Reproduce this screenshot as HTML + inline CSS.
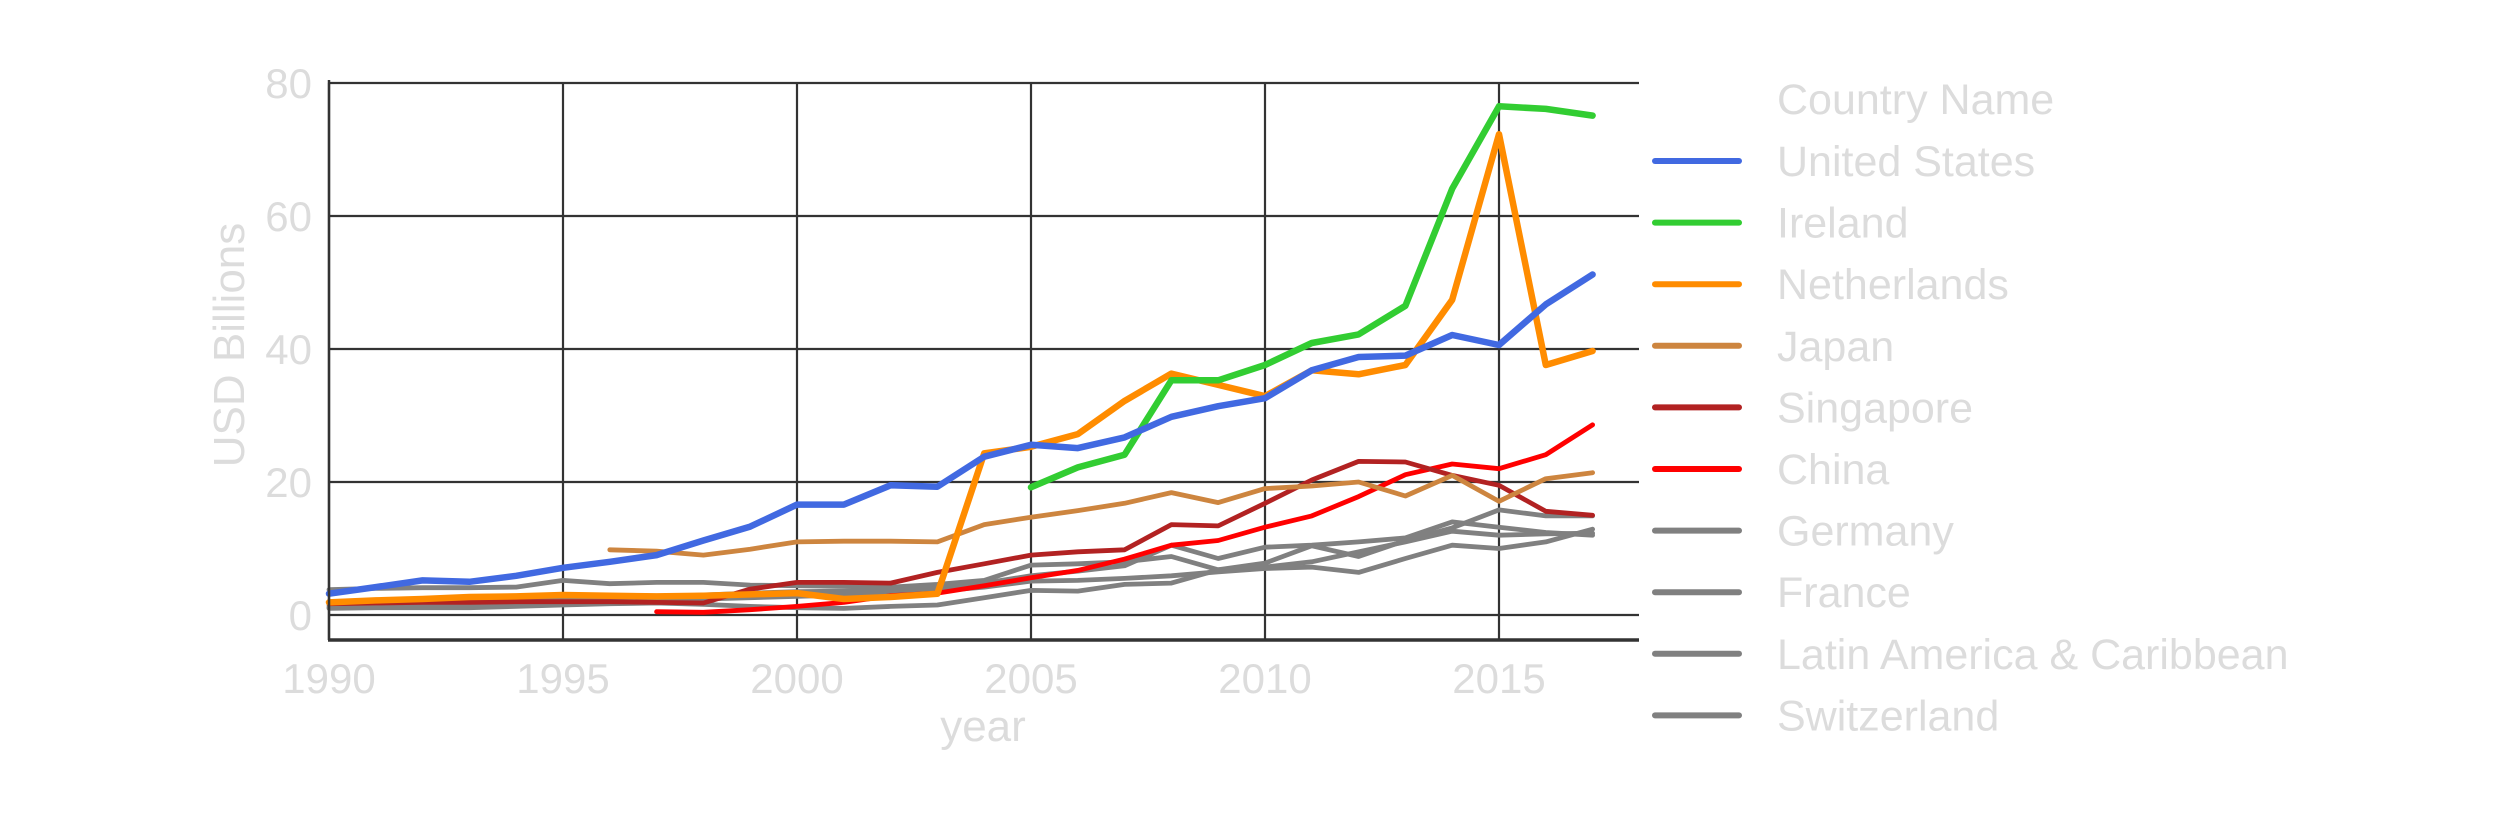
<!DOCTYPE html>
<html><head><meta charset="utf-8"><style>
html,body{margin:0;padding:0;background:#fff;}
svg{display:block;font-family:"Liberation Sans",Arial,sans-serif;}
</style></head><body>
<svg id="chart" width="2500" height="819" viewBox="0 0 2500 819">
<g id="grid"></g>
<g id="series"></g>
<g id="axes"></g>
<g id="legend"></g>
</svg>
<script>
const years = [1990,1991,1992,1993,1994,1995,1996,1997,1998,1999,2000,2001,2002,2003,2004,2005,2006,2007,2008,2009,2010,2011,2012,2013,2014,2015,2016,2017];
const seriesNames = ["United States","Ireland","Netherlands","Japan","Singapore","China","Germany","France","Latin America & Caribbean","Switzerland"];
const seriesColors = ["#4169e1","#32cd32","#ff8c00","#cd853f","#b22222","#ff0000","#808080","#808080","#808080","#808080"];
const seriesWidths = [6.5,6.5,6.5,4.8,4.8,4.8,4.8,4.8,4.8,4.8];
const usValues = [3.2,4.2,5.2,5.0,5.9,7.1,8.0,9.0,11.2,13.3,16.6,16.6,19.5,19.3,23.8,25.6,25.1,26.7,29.8,31.4,32.6,36.8,38.8,39.0,42.1,40.6,46.7,51.2];
const irelandValues = [null,null,null,null,null,null,null,null,null,null,null,null,null,null,null,19.2,22.2,24.1,35.3,35.3,37.6,40.9,42.2,46.5,64.1,76.5,76.1,75.1];
const netherlandsValues = [1.9,2.2,2.4,2.7,2.8,3.0,2.9,2.8,2.9,3.1,3.3,2.4,2.7,3.2,24.3,25.3,27.2,32.2,36.3,34.6,32.9,36.8,36.2,37.6,47.4,72.3,37.6,39.7];
const japanValues = [null,null,null,null,null,null,9.8,9.6,9.0,9.9,11.0,11.1,11.1,11.0,13.6,14.7,15.7,16.8,18.4,16.9,19.0,19.4,20.0,17.9,21.0,17.1,20.5,21.4];
const singaporeValues = [1.7,1.8,1.9,1.9,2.0,2.0,2.0,1.9,1.8,3.9,4.9,4.9,4.8,6.4,7.7,9.0,9.5,9.8,13.6,13.4,16.8,20.3,23.1,23.0,21.0,19.5,15.6,15.0];
const chinaValues = [null,null,null,null,null,null,null,0.5,0.4,0.8,1.3,1.9,2.9,3.3,4.4,5.6,6.7,8.4,10.5,11.2,13.2,14.9,17.8,21.1,22.7,22.0,24.1,28.6];
const germanyValues = [3.8,4.0,4.1,4.1,4.2,5.2,4.7,4.9,4.9,4.5,4.4,4.3,4.2,4.6,5.2,7.5,7.7,8.0,8.8,6.8,7.8,10.4,8.8,11.2,13.1,15.8,14.9,14.9];
const franceValues = [1.5,1.8,2.0,2.1,2.2,2.3,2.5,2.7,3.0,3.3,3.5,3.6,3.8,4.2,4.8,5.9,6.6,7.4,10.5,8.5,10.2,10.5,11.0,11.6,14.0,13.2,12.4,12.0];
const latamValues = [1.2,1.4,1.5,1.6,1.8,1.9,2.0,2.2,2.4,2.6,2.8,3.0,3.3,3.6,4.2,5.1,5.2,5.5,5.9,6.5,7.0,7.2,6.4,8.5,10.5,10.0,11.0,12.9];
const swissValues = [1.0,1.1,1.1,1.1,1.3,1.5,1.7,1.8,1.6,1.3,1.1,1.0,1.3,1.5,2.6,3.7,3.6,4.6,4.8,6.8,7.2,8.0,9.5,11.0,12.6,12.0,12.2,12.3];
const allValues = [usValues,irelandValues,netherlandsValues,japanValues,singaporeValues,chinaValues,germanyValues,franceValues,latamValues,swissValues];
const xTicks = [1990,1995,2000,2005,2010,2015];
const yTicks = [0,20,40,60,80];

const NS="http://www.w3.org/2000/svg";
const X0=329, XPER=46.8, Y0=615, YPER=6.65;
function xs(v){return X0+(v-1990)*XPER;}
function ys(v){return Y0-v*YPER;}
function mk(tag,attrs,parent){const e=document.createElementNS(NS,tag);for(const k in attrs)e.setAttribute(k,attrs[k]);parent.appendChild(e);return e;}
const grid=document.getElementById('grid'),axes=document.getElementById('axes'),ser=document.getElementById('series'),leg=document.getElementById('legend');
const plotRight=1639, plotBottom=640, labelColor="#dcdcdc";

yTicks.forEach(t=>{
  const l=mk('line',{x1:X0,x2:plotRight,y1:ys(t),y2:ys(t),stroke:"#333",'stroke-width':2.2},grid);
  
  
  const tx=mk('text',{x:312,y:ys(t)+15,'text-anchor':'end','font-size':42,fill:labelColor},axes);
  tx.textContent=t;
  
  
});
xTicks.forEach(t=>{
  const l=mk('line',{x1:xs(t),x2:xs(t),y1:ys(80),y2:plotBottom,stroke:"#333",'stroke-width':2.2},grid);
  
  
  const tx=mk('text',{x:xs(t),y:693,'text-anchor':'middle','font-size':42,fill:labelColor},axes);
  tx.textContent=t;
  
  
});
const ba=mk('line',{x1:X0-1,x2:plotRight,y1:plotBottom,y2:plotBottom,stroke:"#333",'stroke-width':3.5},axes);


const la=mk('line',{x1:X0,x2:X0,y1:ys(80)-3,y2:plotBottom,stroke:"#333",'stroke-width':2.5},axes);


const xt=mk('text',{x:983,y:741,'text-anchor':'middle','font-size':44,fill:labelColor},axes);
xt.textContent="year";


const yt=mk('text',{x:0,y:0,'text-anchor':'middle','font-size':44,fill:labelColor,transform:'translate(244,345) rotate(-90)'},axes);
yt.textContent="USD Billions";



for(let i=seriesNames.length-1;i>=0;i--){
  const vals=allValues[i];let d="",pen=false;
  vals.forEach((v,j)=>{if(v===null){pen=false;return;}d+=(pen?"L":"M")+xs(years[j]).toFixed(1)+","+ys(v).toFixed(1);pen=true;});
  const p=mk('path',{d:d,fill:'none',stroke:seriesColors[i],'stroke-width':seriesWidths[i],'stroke-linejoin':'round','stroke-linecap':'round'},ser);
  
  
}

const lh=mk('text',{x:1777,y:114,'font-size':43,fill:labelColor},leg);
lh.textContent="Country Name";


seriesNames.forEach((n,i)=>{
  const y=161+i*61.6;
  const g=mk('g',{},leg);
  
  
  mk('line',{x1:1655,x2:1739,y1:y,y2:y,stroke:seriesColors[i],'stroke-width':6,'stroke-linecap':'round'},g);
  const t=mk('text',{x:1777,y:y+15,'font-size':43,fill:labelColor},g);
  t.textContent=n;
});
</script>
</body></html>
